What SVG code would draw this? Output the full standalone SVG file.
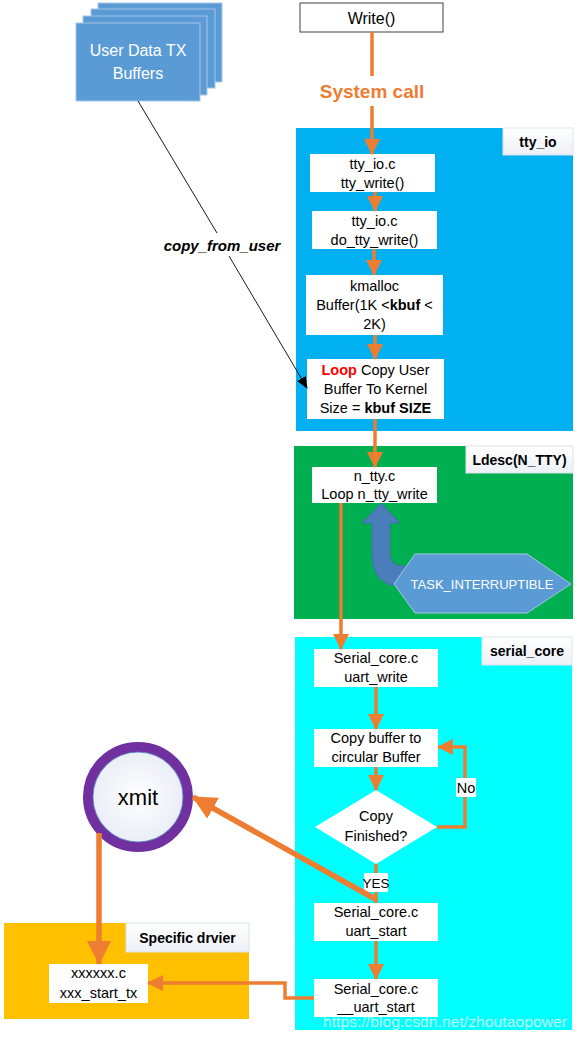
<svg xmlns="http://www.w3.org/2000/svg" width="579" height="1039" viewBox="0 0 579 1039">
<style>
text{font-family:"Liberation Sans","DejaVu Sans",sans-serif;}
.t{font-size:14.5px;fill:#000;text-anchor:middle;}
.lb{font-size:14px;font-weight:bold;fill:#000;text-anchor:middle;}
.box{fill:#fff;}
.tag{fill:url(#tagg);stroke:#dfe3ea;stroke-width:1;}
.o{stroke:#ED7D31;stroke-width:3.5;fill:none;}
.ob{stroke:#ED7D31;stroke-width:5.5;fill:none;}
.ub{fill:#5B9BD5;stroke:#a9c6e8;stroke-width:1;}
</style>
<defs>
<linearGradient id="tagg" x1="0" y1="0" x2="0" y2="1"><stop offset="0" stop-color="#ffffff"/><stop offset="1" stop-color="#edf0f7"/></linearGradient>
<radialGradient id="cg" cx="0.5" cy="0.5" r="0.5"><stop offset="0" stop-color="#ffffff"/><stop offset="1" stop-color="#e8ecf5"/></radialGradient>
<marker id="ah" markerUnits="userSpaceOnUse" markerWidth="16" markerHeight="16" viewBox="0 0 16 16" refX="15" refY="8" orient="auto"><path d="M0,0 L16,8 L0,16 Z" fill="#ED7D31"/></marker>
<marker id="ahb" markerUnits="userSpaceOnUse" markerWidth="24" markerHeight="24" viewBox="0 0 24 24" refX="23" refY="12" orient="auto"><path d="M0,0 L24,12 L0,24 Z" fill="#ED7D31"/></marker>
<marker id="ak" markerUnits="userSpaceOnUse" markerWidth="12" markerHeight="10" viewBox="0 0 12 10" refX="11" refY="5" orient="auto"><path d="M0,0 L12,5 L0,10 Z" fill="#000"/></marker>
</defs>
<rect width="579" height="1039" fill="#fff"/>

<g id="user-buffers">
<rect class="ub" x="98" y="3" width="124" height="79"/>
<rect class="ub" x="91" y="9" width="124" height="79"/>
<rect class="ub" x="83" y="16" width="124" height="79"/>
<rect class="ub" x="76" y="23" width="124" height="78"/>
<text x="138" y="56" style="font-size:16px;fill:#fff;text-anchor:middle">User Data TX</text>
<text x="138" y="79" style="font-size:16px;fill:#fff;text-anchor:middle">Buffers</text>
</g>

<g id="write">
<rect x="300" y="3" width="143" height="29" fill="#fff" stroke="#404040" stroke-width="1"/>
<text x="371.5" y="23.5" style="font-size:16px;text-anchor:middle;fill:#000">Write()</text>
</g>

<g id="tty_io">
<rect x="296" y="128" width="277" height="303" fill="#00B0F0"/>
<rect class="tag" x="503" y="128" width="70" height="27"/>
<text class="lb" x="538" y="146.5">tty_io</text>
</g>

<g id="ldesc">
<rect x="294" y="446" width="279" height="173" fill="#00B050"/>
<rect class="tag" x="466" y="446" width="107" height="27"/>
<text class="lb" x="519.5" y="465">Ldesc(N_TTY)</text>
</g>

<g id="serial_core">
<rect x="295" y="637" width="277" height="393" fill="#00FFFF"/>
<rect class="tag" x="482" y="637" width="90" height="28"/>
<text class="lb" x="527" y="656">serial_core</text>
</g>

<g id="specific">
<rect x="4" y="923" width="245" height="96" fill="#FFC000"/>
<rect class="tag" x="126" y="923" width="123" height="29"/>
<text class="lb" x="187.5" y="942.5">Specific drvier</text>
</g>

<g id="tty_write">
<rect class="box" x="310" y="154" width="125" height="38"/>
<text class="t" x="372.5" y="169">tty_io.c</text>
<text class="t" x="372.5" y="188">tty_write()</text>
</g>
<g id="do_tty_write">
<rect class="box" x="312" y="211" width="125" height="38"/>
<text class="t" x="374.5" y="226">tty_io.c</text>
<text class="t" x="374.5" y="245">do_tty_write()</text>
</g>
<g id="kmalloc">
<rect class="box" x="306" y="275" width="137" height="60"/>
<text class="t" x="374.5" y="291">kmalloc</text>
<text class="t" x="374.5" y="310">Buffer(1K &lt;<tspan font-weight="bold">kbuf</tspan> &lt;</text>
<text class="t" x="374.5" y="329">2K)</text>
</g>
<g id="loop_copy">
<rect class="box" x="307" y="359" width="137" height="60"/>
<text class="t" x="375.5" y="375"><tspan font-weight="bold" fill="#FF0000">Loop</tspan> Copy User</text>
<text class="t" x="375.5" y="394">Buffer To Kernel</text>
<text class="t" x="375.5" y="413">Size = <tspan font-weight="bold">kbuf SIZE</tspan></text>
</g>
<g id="n_tty">
<rect class="box" x="312" y="467" width="125" height="36"/>
<text class="t" x="374.5" y="481">n_tty.c</text>
<text class="t" x="374.5" y="499">Loop n_tty_write</text>
</g>
<g id="task_interruptible">
<path d="M362,523 L381,503 L400,523 L390,523 L390,553 Q390,566 403,566 L412,566 L412,586 L400,586 Q372,586 372,553 L372,523 Z" fill="#4A7EBB" stroke="#3f6fa8" stroke-width="0.8"/>
<polygon points="394,584 415,554 527,554 571,584 527,613 415,613" fill="#5B9BD5" stroke="#a9c6e8" stroke-width="1"/>
<text x="482" y="589" style="font-size:13px;fill:#fff;text-anchor:middle">TASK_INTERRUPTIBLE</text>
</g>
<g id="uart_write">
<rect class="box" x="314" y="649" width="124" height="38"/>
<text class="t" x="376" y="663">Serial_core.c</text>
<text class="t" x="376" y="682">uart_write</text>
</g>
<g id="copy_buffer">
<rect class="box" x="314" y="729" width="124" height="38"/>
<text class="t" x="376" y="743">Copy buffer to</text>
<text class="t" x="376" y="762">circular Buffer</text>
</g>
<g id="copy_finished">
<polygon points="376,790 437,827 376,864 315,827" fill="#fff"/>
<text class="t" x="376" y="821">Copy</text>
<text class="t" x="376" y="841">Finished?</text>
</g>
<g id="uart_start">
<rect class="box" x="314" y="903" width="124" height="38"/>
<text class="t" x="376" y="917">Serial_core.c</text>
<text class="t" x="376" y="936">uart_start</text>
</g>
<g id="__uart_start">
<rect class="box" x="314" y="979" width="124" height="38"/>
<text class="t" x="376" y="994">Serial_core.c</text>
<text class="t" x="376" y="1012">__uart_start</text>
</g>
<g id="xxx_start_tx">
<rect class="box" x="49" y="964" width="99" height="39"/>
<text class="t" x="98.5" y="978">xxxxxx.c</text>
<text class="t" x="98.5" y="998">xxx_start_tx</text>
</g>
<g id="xmit">
<circle cx="138" cy="797" r="50" fill="url(#cg)" stroke="#7030A0" stroke-width="10"/>
<circle cx="138" cy="797" r="45" fill="none" stroke="#4f81bd" stroke-width="0.8"/>
<text x="138" y="805" style="font-size:22px;fill:#000;text-anchor:middle">xmit</text>
</g>

<g id="connectors">
<line class="o" x1="372" y1="32" x2="372" y2="76"/>
<text x="372" y="98" style="font-size:19px;font-weight:bold;fill:#ED7D31;text-anchor:middle">System call</text>
<line class="o" x1="372" y1="106" x2="372" y2="154" marker-end="url(#ah)"/>
<line class="o" x1="375" y1="192" x2="375" y2="211" marker-end="url(#ah)"/>
<line class="o" x1="374" y1="249" x2="374" y2="275" marker-end="url(#ah)"/>
<line class="o" x1="375" y1="335" x2="375" y2="359" marker-end="url(#ah)"/>
<line class="o" x1="375" y1="419" x2="375" y2="467" marker-end="url(#ah)"/>
<line class="o" x1="341" y1="503" x2="341" y2="649" marker-end="url(#ah)"/>
<line class="o" x1="376" y1="687" x2="376" y2="729" marker-end="url(#ah)"/>
<line class="o" x1="376" y1="767" x2="376" y2="790" marker-end="url(#ah)"/>
<polyline class="o" points="437,827 465,827 465,747 438,747" marker-end="url(#ah)"/>
<rect x="456" y="778" width="20" height="19" fill="#fff"/>
<text x="466" y="793" style="font-size:14.5px;fill:#000;text-anchor:middle">No</text>
<line class="o" x1="376" y1="864" x2="376" y2="903"/>
<rect x="364" y="873" width="24" height="19" fill="#fff"/>
<text x="376" y="888" style="font-size:13.5px;fill:#000;text-anchor:middle">YES</text>
<line class="o" x1="376" y1="941" x2="376" y2="979" marker-end="url(#ah)"/>
<polyline class="o" points="314,998 285,998 285,983 148,983" marker-end="url(#ah)"/>
<line class="ob" x1="377" y1="900" x2="193" y2="797" marker-end="url(#ahb)"/>
<line class="ob" x1="99" y1="833" x2="99" y2="964" marker-end="url(#ahb)"/>
<line x1="138" y1="101" x2="217" y2="233" stroke="#000" stroke-width="0.9"/>
<line x1="229" y1="256" x2="307" y2="388" stroke="#000" stroke-width="0.9" marker-end="url(#ak)"/>
<text x="222" y="251" style="font-size:15px;font-weight:bold;font-style:italic;fill:#000;text-anchor:middle">copy_from_user</text>
</g>
<text x="323" y="1027" textLength="244" lengthAdjust="spacingAndGlyphs" style="font-size:15px;fill:#ffffff;fill-opacity:0.75">https://blog.csdn.net/zhoutaopower</text>
</svg>
